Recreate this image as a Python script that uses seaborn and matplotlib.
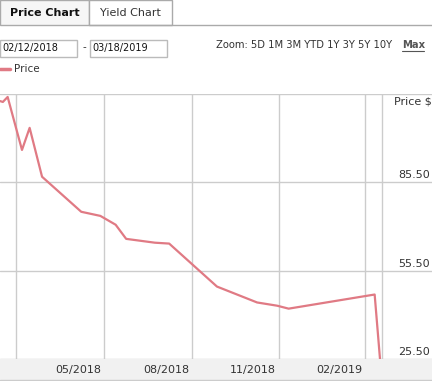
import pandas as pd
import matplotlib
matplotlib.use("Agg")
import matplotlib.pyplot as plt
import matplotlib.patches as mpatches
import matplotlib.lines as mlines
import seaborn as sns

sns.set_style("white")
plt.rcParams["font.family"] = ["DejaVu Sans"]

# price series
dates = ["2018-02-12", "2018-02-15", "2018-02-20", "2018-03-07", "2018-03-15",
         "2018-03-28", "2018-05-08", "2018-05-28", "2018-06-13", "2018-06-24",
         "2018-07-24", "2018-08-08", "2018-09-27", "2018-11-08", "2018-11-29",
         "2018-12-11", "2019-03-11", "2019-03-18"]
prices = [113.1, 112.8, 114.5, 96.5, 104.0, 87.4, 75.5, 74.1, 71.1, 66.3,
          65.0, 64.7, 50.1, 44.7, 43.6, 42.6, 47.4, 20.0]

grid_dates = ["2018-03-01", "2018-06-01", "2018-09-01", "2018-12-01", "2019-03-01"]
x_labels = ["", "05/2018", "08/2018", "11/2018", "02/2019"]
y_ticks = [25.5, 55.5, 85.5, 115.5]
y_labels = ["25.50", "55.50", "85.50", "Price $"]

zoom_opts = ["5D", "1M", "3M", "YTD", "1Y", "3Y", "5Y", "10Y"]

W, H = 432, 381
LINE = "#e07a84"
GRID = "#cccccc"
TXT = "#333333"

df = pd.DataFrame({"date": pd.to_datetime(dates), "price": prices})

fig = plt.figure(figsize=(W / 100, H / 100), dpi=100)


def fx(px):
    return px / W


def fy(py):
    return 1 - py / H


# tabs
fig.add_artist(mpatches.Rectangle((fx(0), fy(25)), fx(89), 25 / H, transform=fig.transFigure,
                                  facecolor="#f6f6f6", edgecolor="#aaaaaa", lw=1))
fig.add_artist(mpatches.Rectangle((fx(89), fy(25)), fx(83), 25 / H, transform=fig.transFigure,
                                  facecolor="white", edgecolor="#aaaaaa", lw=1))
fig.add_artist(mlines.Line2D([fx(89), 1], [fy(25), fy(25)], transform=fig.transFigure,
                             color="#aaaaaa", lw=1))
fig.text(fx(45), fy(13), "Price Chart", ha="center", va="center", fontsize=8,
         fontweight="bold", color="#111111")
fig.text(fx(130), fy(13), "Yield Chart", ha="center", va="center", fontsize=8, color=TXT)

# date range boxes
for x0, txt in [(0, "02/12/2018"), (90, "03/18/2019")]:
    fig.add_artist(mpatches.Rectangle((fx(x0), fy(57)), fx(77), 17 / H, transform=fig.transFigure,
                                      facecolor="white", edgecolor="#bbbbbb", lw=1))
    fig.text(fx(x0 + 2), fy(48.5), txt, ha="left", va="center", fontsize=7, color="#111111")
fig.text(fx(84), fy(47), "-", ha="center", va="center", fontsize=7.5, color=TXT)

# zoom links
fig.text(fx(216), fy(45), "Zoom: " + " ".join(zoom_opts), ha="left", va="center",
         fontsize=7.2, color=TXT)
fig.text(fx(402), fy(45), "Max", ha="left", va="center", fontsize=7.2,
         fontweight="bold", color="#555555")
fig.add_artist(mlines.Line2D([fx(402), fx(424)], [fy(50.5), fy(50.5)], transform=fig.transFigure,
                             color="#555555", lw=0.8))

# legend
fig.add_artist(mlines.Line2D([fx(0), fx(10)], [fy(69), fy(69)], transform=fig.transFigure,
                             color=LINE, lw=2.5))
fig.text(fx(14), fy(69), "Price", ha="left", va="center", fontsize=7.5, color=TXT)

# x axis band (behind the axes so the labels stay visible)
fig.add_artist(mpatches.Rectangle((0, fy(380)), 1, 21 / H, transform=fig.transFigure,
                                  facecolor="#f1f1f1", edgecolor="none", zorder=-2))
fig.add_artist(mlines.Line2D([0, 1], [fy(380), fy(380)], transform=fig.transFigure,
                             color=GRID, lw=1, zorder=-1))

ax = fig.add_axes([0, fy(359), 1, 265 / H])
start = pd.Timestamp("2018-02-12")
ax.set_xlim(start, start + pd.Timedelta(days=452))
ax.set_ylim(y_ticks[0], y_ticks[-1])

sns.lineplot(data=df, x="date", y="price", ax=ax, color=LINE, lw=1.6, legend=False)

for d in pd.to_datetime(grid_dates):
    ax.axvline(d, color=GRID, lw=1, zorder=0)
ax.axvline(start + pd.Timedelta(days=400), color=GRID, lw=1, zorder=0)
for y in y_ticks:
    ax.axhline(y, color=GRID, lw=1, zorder=0)

for d, lab in zip(pd.to_datetime(grid_dates), x_labels):
    ax.annotate(lab, xy=(d, 0), xycoords=("data", "axes fraction"), xytext=(-3, -11),
                textcoords="offset pixels", ha="right", va="center", fontsize=8,
                color=TXT, annotation_clip=False)

for y, lab in zip(y_ticks, y_labels):
    if lab == "Price $":
        ax.annotate(lab, xy=(1, y), xycoords=("axes fraction", "data"), xytext=(0, -2),
                    textcoords="offset pixels", ha="right", va="top", fontsize=8, color=TXT)
    else:
        ax.annotate(lab, xy=(1, y), xycoords=("axes fraction", "data"), xytext=(-2, 2),
                    textcoords="offset pixels", ha="right", va="bottom", fontsize=8, color=TXT)

ax.set_xticks([])
ax.set_yticks([])
ax.set_xlabel("")
ax.set_ylabel("")
for s in ax.spines.values():
    s.set_visible(False)
ax.patch.set_alpha(0)

fig.savefig("out.png", dpi=100)
